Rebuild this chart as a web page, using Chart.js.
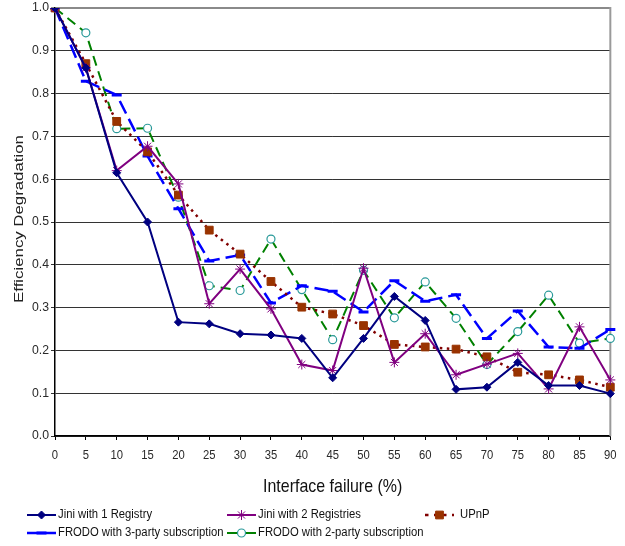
<!DOCTYPE html>
<html>
<head>
<meta charset="utf-8">
<script src="https://cdn.jsdelivr.net/npm/chart.js@4.4.1/dist/chart.umd.min.js"></script>
<style>
html, body { margin: 0; padding: 0; background: #fff; }
</style>
</head>
<body>
<canvas id="effChart" width="625" height="546"></canvas>
<script>
const failure = [0, 5, 10, 15, 20, 25, 30, 35, 40, 45, 50, 55, 60, 65, 70, 75, 80, 85, 90];
const jini1 = [1.0, 0.86, 0.615, 0.50, 0.266, 0.262, 0.239, 0.236, 0.228, 0.136, 0.228, 0.326, 0.27, 0.109, 0.114, 0.172, 0.118, 0.118, 0.099];
const jini2 = [1.0, 0.86, 0.62, 0.677, 0.589, 0.309, 0.39, 0.297, 0.167, 0.153, 0.392, 0.172, 0.239, 0.143, 0.168, 0.193, 0.11, 0.255, 0.131];
const upnp = [1.0, 0.87, 0.735, 0.664, 0.563, 0.481, 0.425, 0.361, 0.301, 0.285, 0.258, 0.214, 0.208, 0.203, 0.185, 0.149, 0.143, 0.131, 0.114];
const frodo3 = [1.0, 0.829, 0.797, 0.654, 0.531, 0.409, 0.423, 0.311, 0.351, 0.338, 0.29, 0.363, 0.315, 0.33, 0.228, 0.292, 0.208, 0.205, 0.249];
const frodo2 = [1.0, 0.942, 0.718, 0.719, 0.558, 0.351, 0.34, 0.46, 0.342, 0.225, 0.387, 0.276, 0.36, 0.275, 0.167, 0.244, 0.329, 0.217, 0.228];
const seriesNames = ['Jini with 1 Registry', 'Jini with 2 Registries', 'UPnP', 'FRODO with 3-party subscription', 'FRODO with 2-party subscription'];
const yTitle = 'Efficiency Degradation';
const xTitle = 'Interface failure (%)';

const font = 'Liberation Sans, Arial, sans-serif';

// legend drawn by hand so the items sit in columns like the original
const legendPlugin = {
    id: 'colLegend',
    afterDraw(chart) {
        const ctx = chart.ctx;
        const rows = [[[0, 27], [1, 227], [2, 425]], [[3, 27], [4, 227]]];
        const rowY = [515, 533];
        ctx.save();
        ctx.font = '12px ' + font;
        ctx.textBaseline = 'middle';
        rows.forEach((row, r) => {
            row.forEach(([i, x]) => {
                const ds = chart.data.datasets[i];
                const y = rowY[r];
                const w = 29;
                ctx.save();
                ctx.strokeStyle = ds.borderColor;
                ctx.lineWidth = ds.borderWidth;
                ctx.setLineDash(i === 2 ? [3.5, 5.5] : []);
                ctx.beginPath();
                ctx.moveTo(x, y);
                ctx.lineTo(x + w, y);
                ctx.stroke();
                ctx.setLineDash([]);
                ctx.fillStyle = ds.pointBackgroundColor;
                ctx.strokeStyle = ds.pointBorderColor;
                ctx.lineWidth = ds.pointBorderWidth;
                Chart.helpers.drawPoint(ctx, {
                    pointStyle: ds.pointStyle,
                    radius: ds.pointRadius,
                    borderWidth: ds.pointBorderWidth,
                    rotation: 0
                }, x + w / 2, y);
                ctx.restore();
                ctx.save();
                ctx.fillStyle = '#111';
                ctx.translate(x + w + (i === 2 ? 6 : 2), y);
                ctx.scale(0.94, 1);
                ctx.fillText(ds.label, 0, 0);
                ctx.restore();
            });
        });
        ctx.restore();
    }
};

// narrow text like the original: tick labels and titles
function narrowText(ctx, text, x, y, size, sx, align, color) {
    ctx.save();
    ctx.translate(x, y);
    ctx.scale(sx, 1);
    ctx.font = size + 'px ' + font;
    ctx.fillStyle = color;
    ctx.textAlign = align;
    ctx.textBaseline = 'middle';
    ctx.fillText(text, 0, 0);
    ctx.restore();
}

const extras = {
    id: 'extras',
    beforeDatasetsDraw(chart) {
        const { ctx, chartArea } = chart;
        ctx.save();
        ctx.strokeStyle = '#9a9a9a';
        ctx.lineWidth = 2;
        ctx.beginPath();
        ctx.moveTo(chartArea.right, chartArea.top - 1);
        ctx.lineTo(chartArea.right, chartArea.bottom);
        ctx.stroke();
        ctx.restore();
    },
    afterDraw(chart) {
        const { ctx, chartArea } = chart;
        const xs = chart.scales.x, ys = chart.scales.y;
        xs.ticks.forEach((t, i) => {
            narrowText(ctx, xs.getLabelForValue(t.value), xs.getPixelForTick(i), chartArea.bottom + 20, 12.5, 0.9, 'center', '#2a2a2a');
        });
        ys.ticks.forEach((t, i) => {
            narrowText(ctx, t.value.toFixed(1), chartArea.left - 6, ys.getPixelForTick(i), 12.5, 0.98, 'right', '#2a2a2a');
        });
        narrowText(ctx, xTitle, (chartArea.left + chartArea.right) / 2, chartArea.bottom + 51, 19, 0.84, 'center', '#111');
        ctx.save();
        ctx.translate(20, (chartArea.top + chartArea.bottom) / 2 - 3);
        ctx.rotate(-Math.PI / 2);
        ctx.scale(1.4, 1);
        ctx.font = '12px ' + font;
        ctx.fillStyle = '#222';
        ctx.textAlign = 'center';
        ctx.textBaseline = 'middle';
        ctx.fillText(yTitle, 0, 0);
        ctx.restore();
    }
};

new Chart(document.getElementById('effChart'), {
    type: 'line',
    data: {
        labels: failure.map(String),
        datasets: [
            {
                label: seriesNames[0], data: jini1,
                borderColor: '#000080', borderWidth: 2,
                pointStyle: 'rectRot', pointRadius: 4,
                pointBackgroundColor: '#000080', pointBorderColor: '#000080', pointBorderWidth: 1
            },
            {
                label: seriesNames[1], data: jini2,
                borderColor: '#800080', borderWidth: 2,
                pointStyle: 'star', pointRadius: 5,
                pointBackgroundColor: '#800080', pointBorderColor: '#800080', pointBorderWidth: 1
            },
            {
                label: seriesNames[2], data: upnp,
                borderColor: '#800000', borderWidth: 2.5, borderDash: [2.5, 4.5],
                pointStyle: 'rect', pointRadius: 5.5,
                pointBackgroundColor: '#993300', pointBorderColor: '#993300', pointBorderWidth: 1
            },
            {
                label: seriesNames[3], data: frodo3,
                borderColor: '#0000ff', borderWidth: 2.5, borderDash: [14, 6],
                pointStyle: 'line', pointRadius: 5,
                pointBackgroundColor: '#0000ff', pointBorderColor: '#0000ff', pointBorderWidth: 3
            },
            {
                label: seriesNames[4], data: frodo2,
                borderColor: '#008000', borderWidth: 2, borderDash: [10, 6],
                pointStyle: 'circle', pointRadius: 4,
                pointBackgroundColor: '#ffffff', pointBorderColor: '#2a9a9a', pointBorderWidth: 1.2
            }
        ]
    },
    options: {
        responsive: false,
        animation: false,
        devicePixelRatio: 1,
        layout: { padding: { left: 0, right: 14, top: 5, bottom: 40 } },
        elements: { line: { tension: 0, fill: false } },
        plugins: {
            legend: { display: false },
            tooltip: { enabled: false }
        },
        scales: {
            x: {
                type: 'category',
                offset: false,
                border: { color: '#000', width: 1.5 },
                grid: { drawOnChartArea: false, drawTicks: true, tickLength: 4, color: '#000' },
                ticks: { color: 'rgba(0,0,0,0)', font: { family: font, size: 12 }, padding: 8, maxRotation: 0, autoSkip: false },
                afterFit(scale) { scale.height = 70; }
            },
            y: {
                min: 0, max: 1,
                border: { color: '#000', width: 1.5 },
                grid: {
                    color: (c) => (c.tick && c.tick.value > 0.99 ? '#8a8a8a' : '#333'),
                    lineWidth: (c) => (c.tick && c.tick.value > 0.99 ? 2 : 1),
                    tickLength: 4
                },
                ticks: {
                    stepSize: 0.1, color: 'rgba(0,0,0,0)', padding: 3,
                    font: { family: font, size: 12 },
                    callback: (v) => v.toFixed(1)
                },
                afterFit(scale) { scale.width = 55; scale.paddingTop = 0; scale.paddingBottom = 0; }
            }
        }
    },
    plugins: [legendPlugin, extras]
});
</script>
</body>
</html>
